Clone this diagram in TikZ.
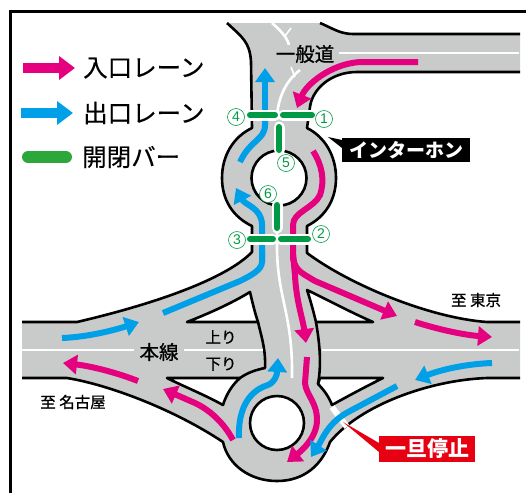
\documentclass[tikz,border=0pt]{standalone}
\usepackage{fontspec}
\setmainfont{Noto Sans CJK JP}
\newfontfamily\medfont[FakeBold=0.4]{Noto Sans CJK JP}
\newfontfamily\heavyfont[FakeBold=0.9]{Noto Sans CJK JP}
\newfontfamily\numfont{Liberation Sans}
\usetikzlibrary{arrows.meta}
\definecolor{roadgray}{HTML}{C9CACA}
\definecolor{inpink}{HTML}{E4007F}
\definecolor{outblue}{HTML}{00A0E9}
\definecolor{bargreen}{HTML}{009944}
\definecolor{legendgreen}{HTML}{2CA73A}
\definecolor{stopred}{HTML}{E60012}
\tikzset{
  edgeline/.style={draw=black,line width=2.6pt,line join=round},
  holeshape/.style={edgeline,fill=white},
  centerline/.style={draw=white,line width=2.6pt},
  barbline/.style={draw=white,line width=1.6pt},
  inlane/.style={draw=inpink,line width=6pt},
  outlane/.style={draw=outblue,line width=6pt},
  headed/.style={-{Triangle[width=19pt,length=14pt]}},
  barhalo/.style={draw=white,line width=11pt,line cap=round},
  gatebar/.style={draw=bargreen,line width=6pt,line cap=round},
  numcircle/.style={circle,draw=bargreen,fill=white,line width=.6pt,inner sep=0pt,minimum size=17pt,text=bargreen,font=\numfont\fontsize{14}{14}\selectfont},
  legendtext/.style={anchor=west,inner sep=0pt,font=\medfont\fontsize{24.5}{24.5}\selectfont},
  roadtext/.style={inner sep=0pt,font=\heavyfont\fontsize{15.5}{15.5}\selectfont},
  halotext/.style={inner sep=1pt,fill=roadgray,font=\heavyfont\fontsize{19.5}{19.5}\selectfont}
}
\def\edgeA{(227,23) .. controls (242,37) and (250,42) .. (251,62) -- (252,128)
  .. controls (233,137) and (222,156) .. (222,178) .. controls (222,200) and (233,217) .. (252,226)
  -- (252,252) .. controls (225,280) and (150,305) .. (77,322) -- (22,322)}
\def\edgeB{(22,378) -- (67,378) .. controls (110,385) and (175,410) .. (223,442)
  .. controls (228,465) and (250,481) .. (277,481) .. controls (304,481) and (322,465) .. (330,442)
  .. controls (360,405) and (430,380) .. (487,378) -- (520,378)}
\def\edgeC{(520,322) -- (487,322) .. controls (430,318) and (350,285) .. (307,253) -- (307,226)
  .. controls (325,217) and (336,200) .. (336,178) .. controls (336,156) and (325,137) .. (307,128)
  -- (310,107) .. controls (312,90) and (330,72) .. (357,72) -- (520,72)}
\def\edgeD{(520,34) -- (353,34) .. controls (340,34) and (332,28) .. (320,23)}
\begin{document}
\begin{tikzpicture}[x=1pt,y=-1pt]
\useasboundingbox (0,0) rectangle (526,493);
% frame
\draw[line width=3pt] (10.5,493) -- (10.5,11) -- (526,11);
% road surface
\fill[roadgray] \edgeA -- \edgeB -- \edgeC -- \edgeD -- cycle;
\draw[edgeline] \edgeA;
\draw[edgeline] \edgeB;
\draw[edgeline] \edgeC;
\draw[edgeline] \edgeD;
% holes
\draw[holeshape] (187,322) .. controls (210,313) and (232,303) .. (250,292) .. controls (253,305) and (255,313) .. (258,322) -- cycle;
\draw[holeshape] (167,378) .. controls (185,387) and (205,395) .. (223,405) .. controls (226,395) and (232,385) .. (240,378) -- cycle;
\draw[holeshape] (307,290) .. controls (328,300) and (350,312) .. (373,322) -- (316,322) .. controls (313,310) and (311,302) .. (307,290) -- cycle;
\draw[holeshape] (320,378) -- (383,378) .. controls (365,387) and (348,396) .. (332,405) .. controls (329,397) and (324,390) .. (318,384) -- cycle;
\draw[holeshape] (279,178) circle[radius=27.5];
\draw[holeshape] (277,423) circle[radius=27];
% overpass edges across the main line
\draw[edgeline] (258,322) .. controls (261,335) and (266,350) .. (265,368) .. controls (255,370) and (247,373) .. (240,378);
\draw[edgeline] (316,322) .. controls (319,340) and (322,362) .. (318,384);
% white lines
\draw[centerline] (22,350) -- (134,350);
\draw[centerline] (184,350) -- (263,350);
\draw[centerline] (322,350) -- (519,350);
\draw[centerline] (339,53) -- (519,53);
\draw[centerline] (277,115) .. controls (279,95) and (287,80) .. (300,70);
\draw[barbline] (291,67) -- (295,77);
\draw[centerline] (272,23) .. controls (280,30) and (287,37) .. (289,45);
\draw[barbline] (285,36) -- (291,28);
\draw[centerline] (277,228) -- (277,250) .. controls (278,300) and (293,315) .. (292,378);
% stop line
\draw[draw=white,line width=6pt] (332,407) -- (347,427);
% pink lanes
\draw[inlane,headed] (418,62) -- (360,62) .. controls (330,64) and (306,85) .. (297,108);
\draw[inlane] (313,151) .. controls (322,165) and (325,180) .. (320,195) .. controls (314,208) and (293,212) .. (293,225) -- (293,260);
\draw[inlane,headed] (293,255) .. controls (294,270) and (300,272) .. (315,281) -- (397,316);
\draw[inlane,headed] (293,255) -- (295,275) .. controls (296,300) and (303,320) .. (306,343);
\draw[inlane,headed] (415,322) .. controls (440,330) and (465,335) .. (492,337);
\draw[inlane,headed] (307,357) -- (305,383) .. controls (306,395) and (317,402) .. (317,420) .. controls (317,438) and (300,452) .. (287,462);
\draw[inlane,headed] (233,440) .. controls (225,425) and (212,411) .. (195,403) -- (163,389);
\draw[inlane,headed] (138,381) .. controls (115,372) and (90,366) .. (63,363);
% blue lanes
\draw[outlane,headed] (265,112) -- (265,68);
\draw[outlane] (265,118) -- (265,125) .. controls (265,140) and (250,140) .. (240,162);
\draw[outlane,headed] (262,262) -- (262,225) .. controls (262,208) and (245,205) .. (236,188);
\draw[outlane] (262,250) -- (262,262) .. controls (262,270) and (250,276) .. (240,281) -- (163,313);
\draw[outlane,headed] (62,338) .. controls (88,337) and (115,330) .. (139,322);
\draw[outlane,headed] (239,438) .. controls (238,415) and (245,392) .. (268,385) .. controls (275,382) and (277,375) .. (278,358);
\draw[outlane,headed] (397,386) -- (350,411) .. controls (328,422) and (322,440) .. (311,457);
\draw[outlane,headed] (492,363) .. controls (465,364) and (440,370) .. (415,380);
% gate bars
\foreach \xa/\ya/\xb/\yb in {250/115/275/115,283/115/312/115,279/127/279/150,277/205/277/228,250/239/273/239,281/239/308/239}{
  \draw[barhalo] (\xa,\ya) -- (\xb,\yb);
}
\foreach \xa/\ya/\xb/\yb in {250/115/275/115,283/115/312/115,279/127/279/150,277/205/277/228,250/239/273/239,281/239/308/239}{
  \draw[gatebar] (\xa,\ya) -- (\xb,\yb);
}
\node[numcircle] (n1) at (324,119) {1};
\node[numcircle] (n2) at (321,234) {2};
\node[numcircle] (n3) at (237,240) {3};
\node[numcircle] (n4) at (236,117) {4};
\node[numcircle] (n5) at (286,163) {5};
\node[numcircle] (n6) at (268,194) {6};
% road labels
\node[halotext,inner sep=0pt] (road) at (305,54) {一般道};
\node[halotext,inner sep=1pt] (honsen) at (159,352) {本線};
\node[roadtext] (up) at (221,337) {上り};
\node[roadtext] (down) at (221,364) {下り};
\node[roadtext] (tokyo) at (476,300) {至 東京};
\node[roadtext] (nagoya) at (73,402) {至 名古屋};
% callouts
\fill[black] (328,137) -- (342,140) -- (342,148) -- cycle;
\node[fill=black,text=white,anchor=west,minimum width=128pt,minimum height=24pt,inner sep=0pt,font=\fontsize{19}{19}\bfseries] (intercom) at (342,150) {インターホン};
\fill[stopred] (343,422) -- (379,443) -- (379,452) -- cycle;
\node[fill=stopred,text=white,anchor=west,minimum width=96pt,minimum height=26pt,inner sep=0pt,font=\fontsize{21}{21}\bfseries] (stop) at (379,449) {一旦停止};
% legend
\draw[draw=inpink,line width=10pt,-{Triangle[width=23pt,length=16pt]}] (23,68) -- (75,68);
\node[legendtext] (legin) at (83,68) {入口レーン};
\draw[draw=outblue,line width=10pt,-{Triangle[width=23pt,length=16pt]}] (21,113) -- (73,113);
\node[legendtext] (legout) at (83,113) {出口レーン};
\draw[draw=legendgreen,line width=12pt,line cap=round] (28,157) -- (66,157);
\node[legendtext] (legbar) at (82,157) {開閉バー};
\end{tikzpicture}
\end{document}
